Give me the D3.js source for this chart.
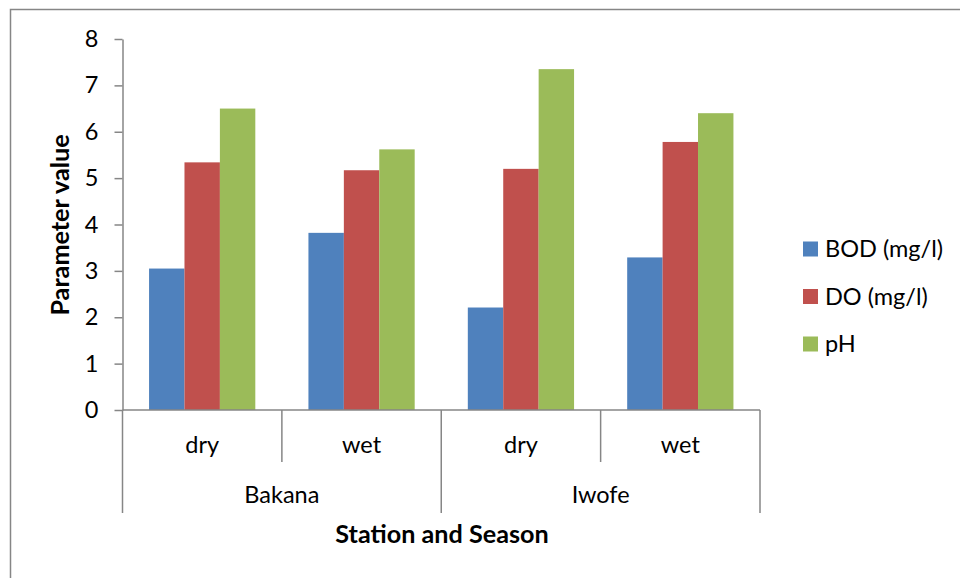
<!DOCTYPE html>
<html><head><meta charset="utf-8">
<script src="https://cdn.jsdelivr.net/npm/d3@7"></script>
<style>body{margin:0;background:#fff}svg{display:block}text{font-family:Lato,"Open Sans",sans-serif;fill:#000}</style>
</head><body>
<svg id="c" width="960" height="578"></svg>
<script>
const stations = ["Bakana", "Iwofe"];
const seasons = ["dry", "wet"];
const categories = ["Bakana dry", "Bakana wet", "Iwofe dry", "Iwofe wet"];
const seriesNames = ["BOD (mg/l)", "DO (mg/l)", "pH"];
const bod = [3.05, 3.82, 2.21, 3.29];
const dox = [5.34, 5.17, 5.20, 5.78];
const ph = [6.50, 5.62, 7.35, 6.40];
const colors = ["#4F81BD", "#C0504D", "#9BBB59"];
const yTicks = [0,1,2,3,4,5,6,7,8];

(function(){
const seriesValues = [bod, dox, ph];
const svg = d3.select("#c");
const axisColor = "#868686";
const fs = 23.5, fsb = 25.2;

svg.append("rect").attr("x",10.5).attr("y",9.5).attr("width",1000).attr("height",1000)
  .attr("fill","none").attr("stroke",axisColor).attr("stroke-width",1.5);

const pLeft = 122.5, pRight = 760, pTop = 39, pBottom = 410;
const x0 = d3.scaleBand().domain(categories).range([pLeft, pRight]).padding(0);
const bw = x0.bandwidth();
const x1 = d3.scaleBand().domain(seriesNames).range([bw/6, bw*5/6]).padding(0);
const y = d3.scaleLinear().domain([0,8]).range([pBottom, pTop]);

const g = svg.append("g");
seriesNames.forEach((s, si) => {
  g.selectAll(null).data(categories).enter().append("rect")
    .attr("x", c => x0(c) + x1(s))
    .attr("y", (c, i) => y(seriesValues[si][i]))
    .attr("width", x1.bandwidth())
    .attr("height", (c, i) => y(0) - y(seriesValues[si][i]))
    .attr("fill", colors[si]);
});

const ya = svg.append("g").attr("transform", `translate(${pLeft},0)`)
  .call(d3.axisLeft(y).tickValues(yTicks).tickSize(8).tickSizeOuter(0).tickPadding(16));
ya.select(".domain").attr("stroke", axisColor).attr("stroke-width", 1.5);
ya.selectAll(".tick line").attr("stroke", axisColor).attr("stroke-width", 1.5);
ya.selectAll(".tick text").attr("font-size", fs).attr("font-family", "Lato").attr("fill","#000");

svg.append("line").attr("x1", pLeft).attr("x2", pRight).attr("y1", pBottom).attr("y2", pBottom)
  .attr("stroke", axisColor).attr("stroke-width", 1.5);
const bounds = categories.map(c => x0(c)).concat([pRight]);
svg.selectAll(null).data(bounds).enter().append("line")
  .attr("x1", d => d).attr("x2", d => d).attr("y1", pBottom)
  .attr("y2", (d, i) => (i % 2 === 0 ? 513 : 462))
  .attr("stroke", axisColor).attr("stroke-width", 1.5);
svg.selectAll(null).data(categories).enter().append("text")
  .attr("x", c => x0(c) + bw/2).attr("y", 453).attr("text-anchor","middle")
  .attr("font-size", fs).text((c, i) => seasons[i % 2]);
svg.selectAll(null).data(stations).enter().append("text")
  .attr("x", (s, i) => x0(categories[i*2]) + bw).attr("y", 503).attr("text-anchor","middle")
  .attr("font-size", fs).text(s => s);

svg.append("text").attr("x", 442).attr("y", 543).attr("text-anchor","middle")
  .attr("font-size", fsb).attr("font-weight","bold").text("Station and Season");
svg.append("text").attr("transform", "translate(69,225) rotate(-90)").attr("text-anchor","middle")
  .attr("font-size", fsb).attr("font-weight","bold").text("Parameter value");

const lg = svg.append("g");
seriesNames.forEach((s, i) => {
  const cy = 249 + i*47.5;
  lg.append("rect").attr("x", 803).attr("y", cy - 7.5).attr("width", 15).attr("height", 15).attr("fill", colors[i]);
  lg.append("text").attr("x", 825).attr("y", cy + 8).attr("font-size", fs).text(s);
});
})();
</script>
</body></html>
